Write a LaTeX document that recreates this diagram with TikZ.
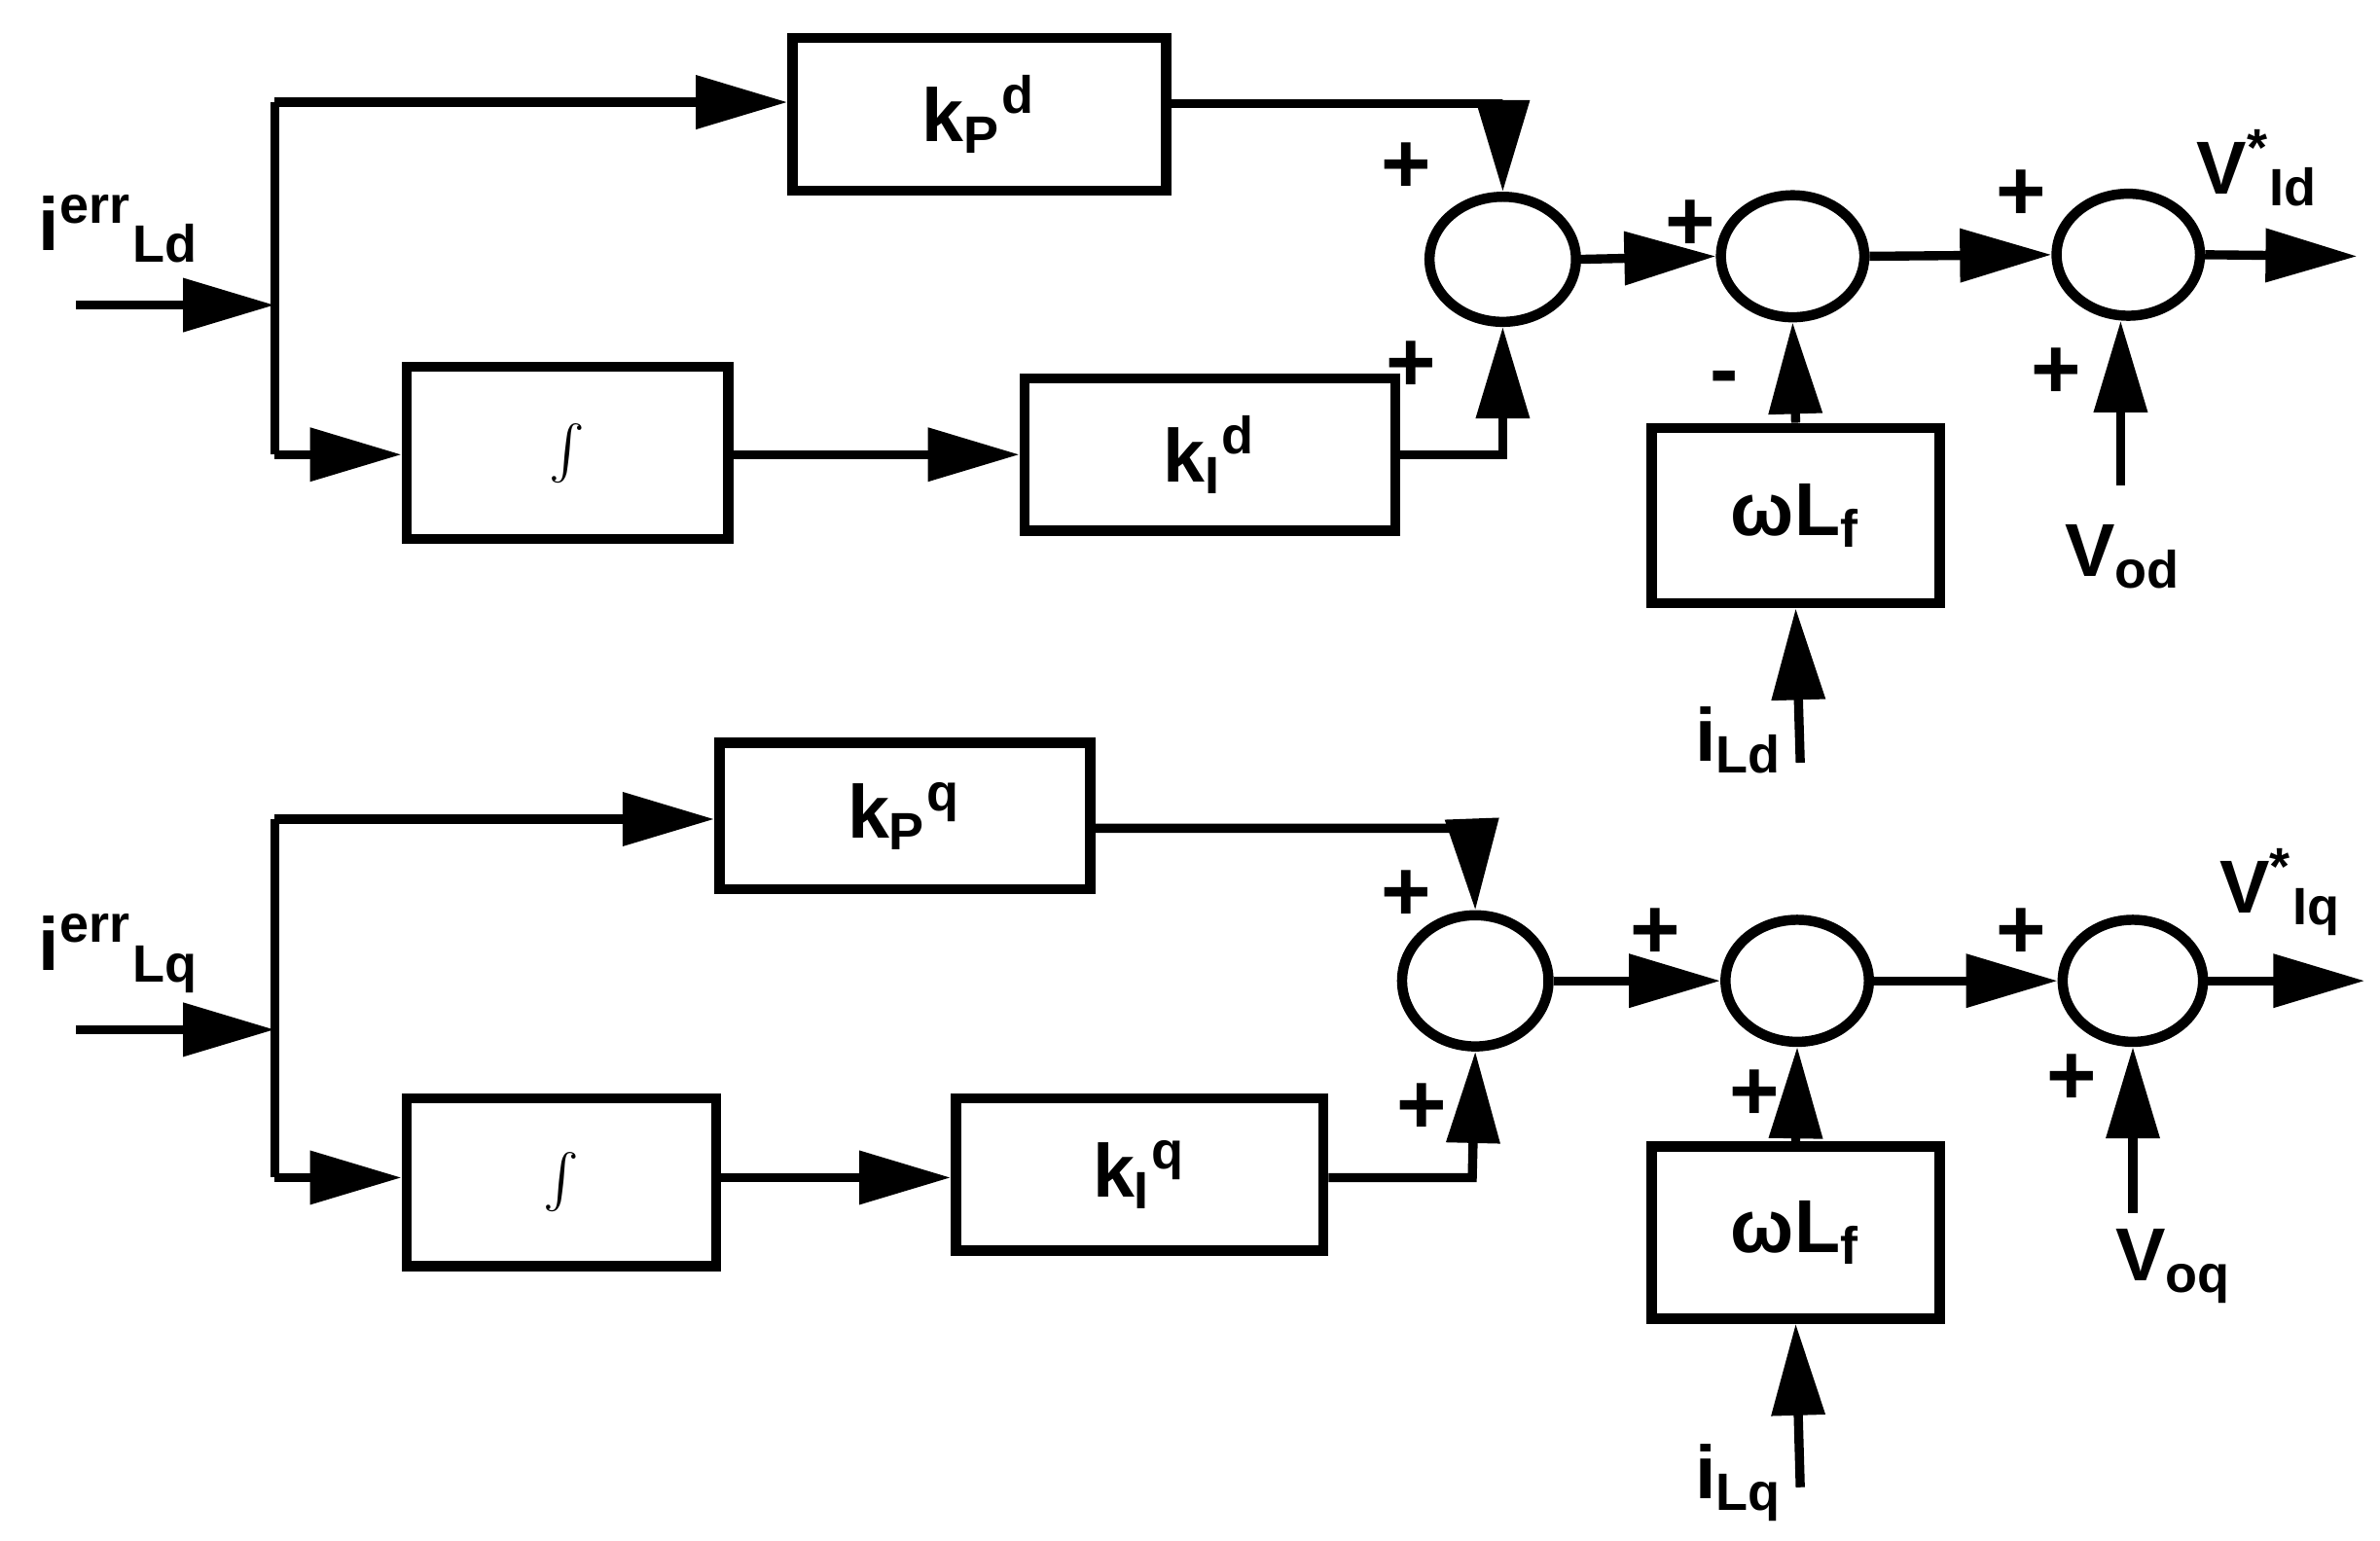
\documentclass[tikz,border=0pt]{standalone}
\usepackage{fontspec}
\setmainfont{Liberation Sans}
\usetikzlibrary{arrows.meta,shapes.geometric}
\begin{document}
\begin{tikzpicture}[x=0.1mm,y=-0.1mm,
  line width=1.7pt,
  arr/.style={-{Triangle[length=6mm,width=3.4mm]}},
  blk/.style={draw,line width=1.9pt,inner sep=0pt},
  sum/.style={draw,line width=1.9pt,ellipse,minimum width=9.6mm,minimum height=8.2mm,inner sep=0pt},
  lab/.style={font=\fontsize{14}{16}\selectfont\bfseries},
  sgn/.style={font=\fontsize{16}{16}\selectfont\bfseries}]
\useasboundingbox (0,0) rectangle (1560,1010);
% ===== top (d) =====
\coordinate (inA) at (50,200);
\coordinate (brA) at (180,200);
\coordinate (brAt) at (180,67);
\coordinate (brAb) at (180,298);
\node[blk,minimum width=24.5mm,minimum height=10mm,lab] (kpd) at (642,75) {k\textsubscript{P}\textsuperscript{d}};
\node[blk,minimum width=21.1mm,minimum height=11.3mm,font=\large] (intd) at (372,297) {$\int$};
\node[blk,minimum width=24.3mm,minimum height=10mm,lab] (kid) at (793,298) {k\textsubscript{I}\textsuperscript{d}};
\node[sum] (s1d) at (985,170) {};
\node[sum,minimum width=9.4mm,minimum height=8mm] (s2d) at (1175,168) {};
\node[sum,minimum width=9.4mm,minimum height=8mm] (s3d) at (1395,167) {};
\node[blk,minimum width=18.9mm,minimum height=11.5mm,lab] (wd) at (1177,338) {ωL\textsubscript{f}};
\coordinate (ild) at (1180,500);
\coordinate (vod) at (1390,318);
\coordinate (outd) at (1545,168);
\coordinate (c1d) at (985,68);
\coordinate (c2d) at (985,298);
\draw[arr] (inA) -- (brA);
\draw (brAt) -- (brAb);
\draw[arr] (brAt) -- (kpd.west|-brAt);
\draw[arr] (brAb) -- (intd.west|-brAb);
\draw[arr] (intd.east|-brAb) -- (kid.west|-brAb);
\draw[arr] (kpd.east|-c1d) -- (c1d) -- (s1d.north);
\draw[arr] (kid.east) -- (c2d) -- (s1d.south);
\draw[arr] (s1d.east) -- (s2d.west);
\draw[arr] (s2d.east) -- (s3d.west);
\draw[arr] (s3d.east) -- (outd);
\draw[arr] (wd.north) -- (s2d.south);
\draw[arr] (ild) -- (wd.south);
\draw[arr] (vod) -- (vod|-s3d.south);
\node[lab] (tA) at (78,150) {i\textsuperscript{err}\textsubscript{Ld}};
\node[lab] (tild) at (1140,485) {i\textsubscript{Ld}};
\node[lab] (tvod) at (1392,365) {V\textsubscript{od}};
\node[lab] (tVd) at (1480,110) {V\textsuperscript{*}\textsubscript{Id}};
\node[sgn] (p1) at (922,110) {+};
\node[sgn] (p2) at (925,240) {+};
\node[sgn] (p3) at (1108,148) {+};
\node[sgn] (p4) at (1130,252) {-};
\node[sgn] (p5) at (1325,128) {+};
\node[sgn] (p6) at (1348,245) {+};
% ===== bottom (q) =====
\coordinate (inB) at (50,675);
\coordinate (brB) at (180,675);
\coordinate (brBt) at (180,537);
\coordinate (brBb) at (180,772);
\node[blk,minimum width=24.3mm,minimum height=9.6mm,lab] (kpq) at (593,535) {k\textsubscript{P}\textsuperscript{q}};
\node[blk,minimum width=20.3mm,minimum height=11mm,font=\large] (intq) at (368,775) {$\int$};
\node[blk,minimum width=24.1mm,minimum height=10mm,lab] (kiq) at (747,770) {k\textsubscript{I}\textsuperscript{q}};
\node[sum,minimum width=9.6mm,minimum height=8.6mm] (s1q) at (967,643) {};
\node[sum,minimum width=9.4mm,minimum height=8mm] (s2q) at (1178,643) {};
\node[sum,minimum width=9.2mm,minimum height=8mm] (s3q) at (1398,643) {};
\node[blk,minimum width=18.9mm,minimum height=11.3mm,lab] (wq) at (1177,808) {ωL\textsubscript{f}};
\coordinate (ilq) at (1180,975);
\coordinate (voq) at (1398,795);
\coordinate (outq) at (1550,643);
\coordinate (c1q) at (965,543);
\coordinate (c2q) at (965,772);
\draw[arr] (inB) -- (brB);
\draw (brBt) -- (brBb);
\draw[arr] (brBt) -- (kpq.west|-brBt);
\draw[arr] (brBb) -- (intq.west|-brBb);
\draw[arr] (intq.east|-brBb) -- (kiq.west|-brBb);
\draw[arr] (kpq.east|-c1q) -- (c1q) -- (s1q.north);
\draw[arr] (kiq.east|-c2q) -- (c2q) -- (s1q.south);
\draw[arr] (s1q.east) -- (s2q.west);
\draw[arr] (s2q.east) -- (s3q.west);
\draw[arr] (s3q.east) -- (outq);
\draw[arr] (wq.north) -- (s2q.south);
\draw[arr] (ilq) -- (wq.south);
\draw[arr] (voq) -- (s3q.south);
\node[lab] (tB) at (78,625) {i\textsuperscript{err}\textsubscript{Lq}};
\node[lab] (tilq) at (1140,972) {i\textsubscript{Lq}};
\node[lab] (tvoq) at (1425,830) {V\textsubscript{oq}};
\node[lab] (tVq) at (1495,585) {V\textsuperscript{*}\textsubscript{Iq}};
\node[sgn] (q1) at (922,587) {+};
\node[sgn] (q2) at (932,727) {+};
\node[sgn] (q3) at (1085,612) {+};
\node[sgn] (q4) at (1150,718) {+};
\node[sgn] (q5) at (1325,612) {+};
\node[sgn] (q6) at (1358,708) {+};
\end{tikzpicture}
\end{document}
